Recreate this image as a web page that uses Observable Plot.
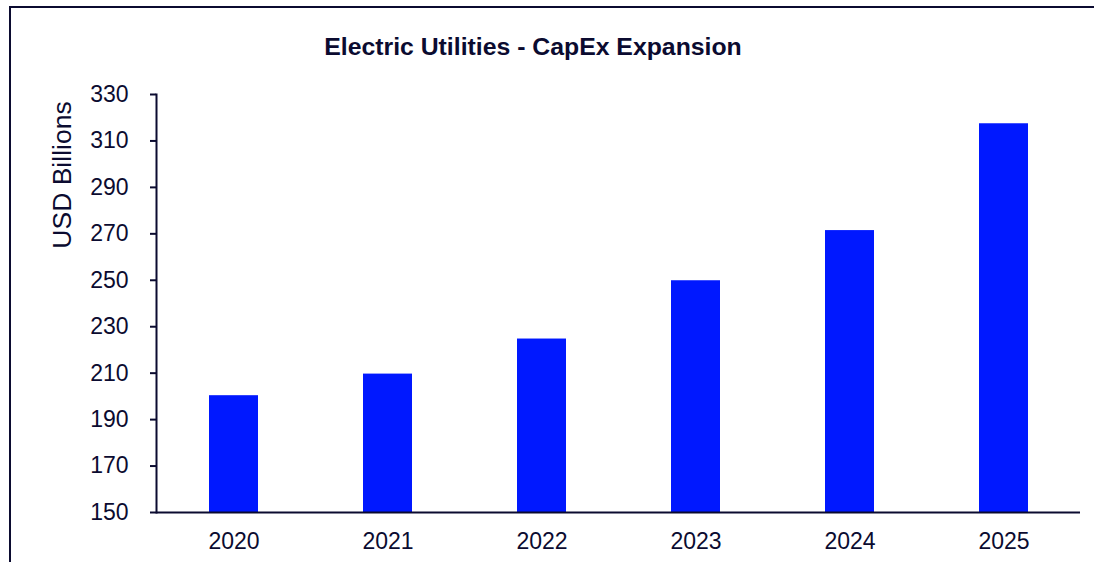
<!DOCTYPE html>
<html>
<head>
<meta charset="utf-8">
<script src="https://cdn.jsdelivr.net/npm/d3@7"></script>
<script src="https://cdn.jsdelivr.net/npm/@observablehq/plot@0.6"></script>
<style>
  html, body { margin: 0; padding: 0; background: #ffffff; overflow: hidden; }
  #root { position: relative; width: 1098px; height: 562px; overflow: hidden; background: #ffffff;
          font-family: "Liberation Sans", Arial, sans-serif; color: #0b0b30; }
  #bTop { position: absolute; left: 9px; top: 6px; width: 1085px; height: 2px; background: #0b0b30; }
  #bLeft { position: absolute; left: 9px; top: 6px; width: 2px; height: 556px; background: #0b0b30; }
  #title { position: relative; height: 70px; box-sizing: border-box; padding-top: 34px; width: 1066px;
           text-align: center; font-weight: bold; font-size: 24.8px; line-height: 25px; white-space: nowrap; }
  #ylabel { position: absolute; left: 62px; top: 175px; transform: translate(-50%, -50%) rotate(-90deg);
            font-size: 26.5px; line-height: 26px; white-space: nowrap; }
  #chart { position: relative; }
  #chart svg { display: block; }
</style>
</head>
<body>
<div id="root">
  <div id="bTop"></div>
  <div id="bLeft"></div>
  <div id="title">Electric Utilities - CapEx Expansion</div>
  <div id="ylabel">USD Billions</div>
  <div id="chart"></div>
</div>
<script>
const years = ["2020", "2021", "2022", "2023", "2024", "2025"];
const capex = [200.3, 209.6, 224.7, 249.8, 271.4, 317.4];
const yDomain = [150, 330];
const yTicks = [150, 170, 190, 210, 230, 250, 270, 290, 310, 330];

const ink = "#0b0b30";
const barColor = "#0018ff";

const data = years.map((year, i) => ({year, value: capex[i]}));

const chart = Plot.plot({
  width: 1098,
  height: 492,
  marginLeft: 156,
  marginRight: 18,
  marginTop: 24,
  marginBottom: 50,
  style: {
    fontFamily: "'Liberation Sans', Arial, sans-serif",
    fontSize: "23px",
    color: ink,
    background: "transparent",
    overflow: "visible"
  },
  x: {type: "band", domain: years, paddingInner: 0.685, paddingOuter: 0.3425, label: null},
  y: {domain: yDomain, label: null},
  marks: [
    Plot.barY(data, {x: "year", y1: yDomain[0], y2: "value", fill: barColor}),
    Plot.axisX({tickSize: 0, tickPadding: 20, label: null, fill: ink}),
    Plot.axisY({ticks: yTicks, tickSize: 6, tickPadding: 22, strokeWidth: 2, stroke: ink, fill: ink, label: null}),
    Plot.ruleY([yDomain[0]], {stroke: ink, strokeWidth: 2}),
    Plot.frame({anchor: "left", stroke: ink, strokeWidth: 2})
  ]
});
document.getElementById("chart").appendChild(chart);
</script>
</body>
</html>
